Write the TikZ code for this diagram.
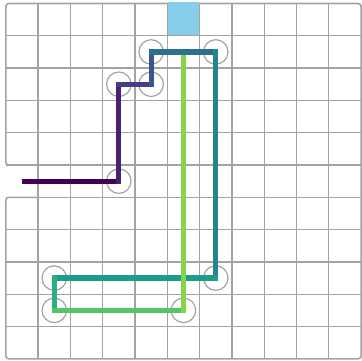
\documentclass[tikz,border=0pt]{standalone}
\usetikzlibrary{calc}
\definecolor{gridgray}{HTML}{A3A3A3}
\definecolor{exitblue}{HTML}{87CEEB}
\definecolor{vA}{HTML}{440154}
\definecolor{vB}{HTML}{482173}
\definecolor{vC}{HTML}{433E85}
\definecolor{vD}{HTML}{38588C}
\definecolor{vE}{HTML}{2D708E}
\definecolor{vF}{HTML}{25858E}
\definecolor{vG}{HTML}{1E9B8A}
\definecolor{vH}{HTML}{2AB07F}
\definecolor{vI}{HTML}{52C569}
\definecolor{vJ}{HTML}{86D549}
\begin{document}
\begin{tikzpicture}[x=1pt,y=-1pt,
  gridline/.style={draw=gridgray, line width=1.3pt},
  border/.style={draw=gridgray, line width=1.6pt, rounded corners=3pt},
  turn/.style={circle, draw=gridgray, line width=1.2pt, minimum size=24.5pt, inner sep=0pt},
  seg/.style={line width=5.2pt, line cap=rect}]
\useasboundingbox (0,0) rectangle (362,361);
\def\gx{5.8}\def\gy{3.5}\def\cs{32.3}
% grid
\foreach \i in {1,...,10} {
  \draw[gridline] ({\gx+\i*\cs},\gy) -- ({\gx+\i*\cs},{\gy+11*\cs});
  \draw[gridline] (\gx,{\gy+\i*\cs}) -- ({\gx+11*\cs},{\gy+\i*\cs});
}
\draw[border] ({\gx+\cs},{\gy+5*\cs}) -- (\gx,{\gy+5*\cs}) -- (\gx,\gy) -- ({\gx+11*\cs},\gy)
  -- ({\gx+11*\cs},{\gy+11*\cs}) -- (\gx,{\gy+11*\cs}) -- (\gx,{\gy+6*\cs}) -- ({\gx+\cs},{\gy+6*\cs});
% exit cell
\fill[exitblue] ({\gx+5*\cs+0.7},{\gy-1}) rectangle ({\gx+6*\cs-0.7},{\gy+\cs-0.7});
% cell-centre coordinates
\newcommand{\cellc}[3]{\coordinate (#1) at ({\gx+(#2+0.5)*\cs},{\gy+(#3+0.5)*\cs});}
\cellc{s}{0}{5}
\cellc{a}{3}{5}
\cellc{b}{3}{2}
\cellc{c}{4}{2}
\cellc{d}{4}{1}
\cellc{e}{6}{1}
\cellc{f}{6}{8}
\cellc{g}{1}{8}
\cellc{h}{1}{9}
\cellc{k}{5}{9}
\cellc{z}{5}{1}
% turn markers
\foreach \p in {a,b,c,d,e,f,g,h,k} \node[turn] (t\p) at (\p) {};
% path
\draw[seg, vA, shorten <=2.6pt] (s) -- (a);
\draw[seg, vB] (a) -- (b);
\draw[seg, vC] (b) -- (c);
\draw[seg, vD] (c) -- (d);
\draw[seg, vE] (d) -- (e);
\draw[seg, vF] (e) -- (f);
\draw[seg, vG] (f) -- (g);
\draw[seg, vH] (g) -- (h);
\draw[seg, vI] (h) -- (k);
\draw[seg, vJ, shorten >=5.2pt] (k) -- (z);
\end{tikzpicture}
\end{document}
